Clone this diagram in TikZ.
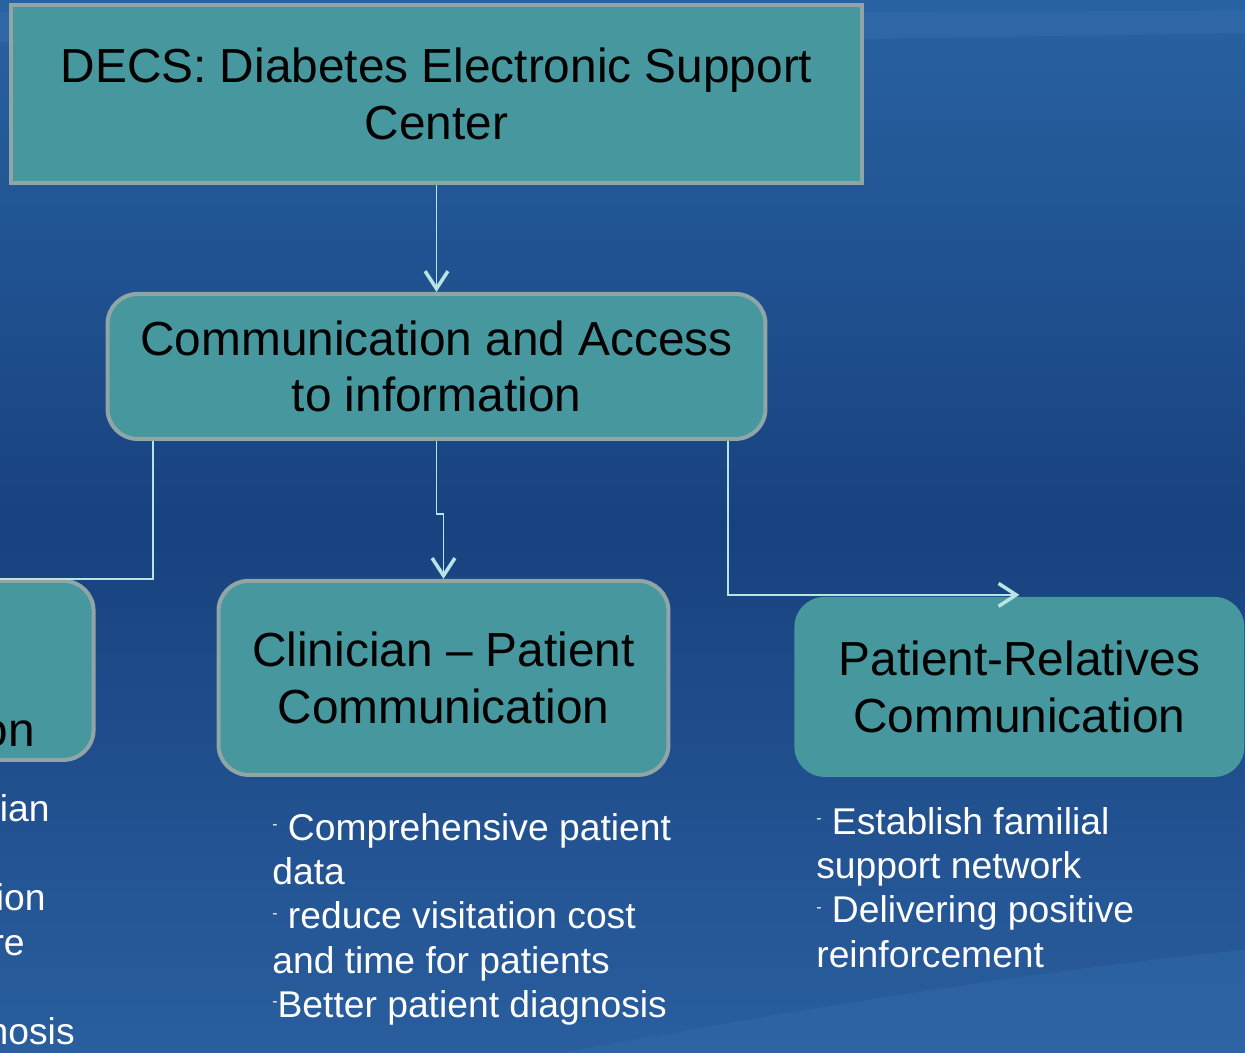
\documentclass[tikz,border=0pt]{standalone}
\usepackage{fontspec}
\setmainfont{Liberation Sans}
\usepackage{tikz}
\usetikzlibrary{arrows.meta,positioning}

\definecolor{boxfill}{HTML}{46979E}
\definecolor{boxline}{HTML}{8FA5A6}
\definecolor{linkcol}{HTML}{B8E4E6}
\definecolor{bgtop}{HTML}{2962A2}
\definecolor{bgmid}{HTML}{18427F}
\definecolor{bgbot}{HTML}{2A5E9E}
\definecolor{swoosh}{HTML}{3A74B4}

\newcommand\boxfont{\fontsize{27.2}{32.3}\selectfont}
\newcommand\notefont{\fontsize{21.2}{25.2}\selectfont}
\newcommand\dashmark{\raisebox{6pt}{\fontsize{9}{9}\selectfont -}}

\tikzset{
  decsbox/.style={draw=boxline, line width=2.3pt, fill=boxfill, font=\boxfont,
    align=center, inner sep=0pt},
  roundbox/.style={decsbox, rounded corners=0.6cm},
  link/.style={draw=linkcol, line width=1.1pt},
  linkarrow/.style={link, -{Straight Barb[length=10pt,width=13pt,line width=2pt]}},
  notes/.style={text=white, font=\notefont, align=left, inner sep=0pt},
}

\begin{document}
\begin{tikzpicture}[x=0.02cm,y=-0.02cm,node distance=2cm,on grid]
  \useasboundingbox (0,0) rectangle (1245,1053);
  \clip (0,0) rectangle (1245,1053);

  % background
  \begin{scope}[y=0.02cm]
    \shade[top color=bgtop, bottom color=bgbot, middle color=bgmid] (0,-1053) rectangle (1245,0);
  \end{scope}
  \fill[swoosh, opacity=0.35] (0,12) .. controls (400,10) and (900,14) .. (1245,10)
    -- (1245,33) .. controls (900,38) and (400,48) .. (0,42) -- cycle;
  \fill[swoosh, opacity=0.3] (560,1053) .. controls (800,1010) and (1000,975) .. (1245,950)
    -- (1245,1053) -- cycle;

  % boxes
  \node[decsbox, minimum width=17.02cm, minimum height=3.56cm] (decs) at (436.5,94)
    {DECS: Diabetes Electronic Support\\Center};
  \node[roundbox, minimum width=13.16cm, minimum height=2.9cm] (comm) [below=5.45cm of decs]
    {Communication and Access\\to information};
  \node[roundbox, minimum width=9cm, minimum height=3.88cm] (clin) [below right=6.23cm and 0.14cm of comm]
    {Clinician -- Patient\\Communication};
  \node[roundbox, draw=none, minimum width=9cm, minimum height=3.6cm] (rel) [below right=0.18cm and 11.52cm of clin]
    {Patient-Relatives\\Communication};
  \node[roundbox, minimum width=9cm, minimum height=3.58cm] (left) [above left=0.15cm and 11.5cm of clin] {};
  \node[font=\boxfont, anchor=base east, inner sep=0pt] (lefttxt) at (35,747) {on};

  % connectors
  \draw[linkarrow] (decs.south) -- (comm.north);
  \draw[linkarrow] (comm.south) -- ++(0,73) -| (clin.north);
  \draw[linkarrow] ([xshift=-5.68cm]comm.south) |- (left.north);
  \draw[linkarrow] ([xshift=5.84cm]comm.south) |- (rel.north);

  % notes under the boxes
  \node[notes, anchor=base east] (leftnote1) at (50,822) {ian};
  \node[notes, anchor=base east] (leftnote2) at (46,911) {ion};
  \node[notes, anchor=base east] (leftnote3) at (25,956) {re};
  \node[notes, anchor=base east] (leftnote4) at (75,1045) {nosis};
  \node[notes, anchor=north west] (clinnote) at (272,813)
    {\dashmark{} Comprehensive patient\\data\\\dashmark{} reduce visitation cost\\and time for patients\\\dashmark{}Better patient diagnosis};
  \node[notes, anchor=north west] (relnote) at (816,807)
    {\dashmark{} Establish familial\\support network\\\dashmark{} Delivering positive\\reinforcement};
\end{tikzpicture}
\end{document}
